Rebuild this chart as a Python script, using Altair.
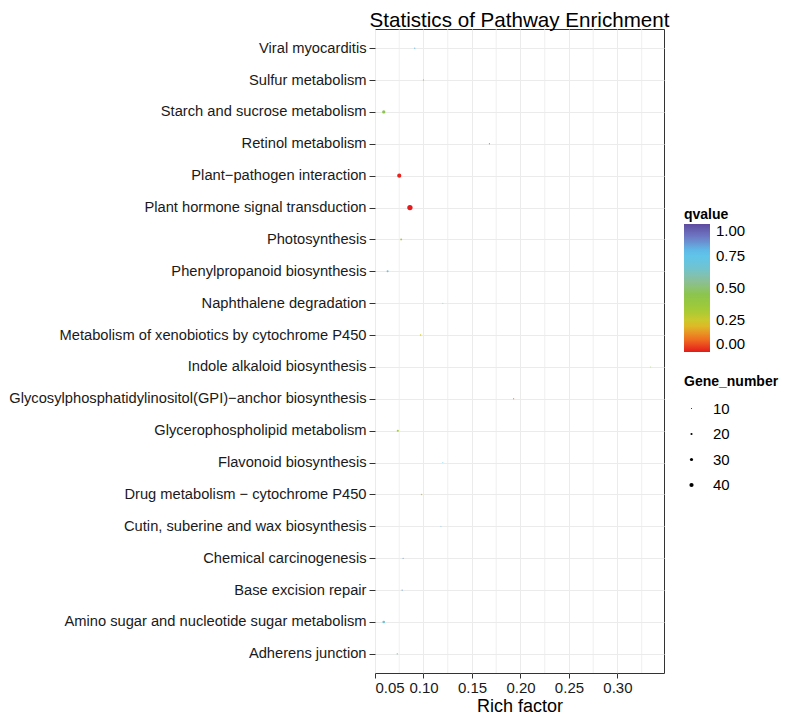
import altair as alt
import pandas as pd

pathways = [
    "Viral myocarditis",
    "Sulfur metabolism",
    "Starch and sucrose metabolism",
    "Retinol metabolism",
    "Plant−pathogen interaction",
    "Plant hormone signal transduction",
    "Photosynthesis",
    "Phenylpropanoid biosynthesis",
    "Naphthalene degradation",
    "Metabolism of xenobiotics by cytochrome P450",
    "Indole alkaloid biosynthesis",
    "Glycosylphosphatidylinositol(GPI)−anchor biosynthesis",
    "Glycerophospholipid metabolism",
    "Flavonoid biosynthesis",
    "Drug metabolism − cytochrome P450",
    "Cutin, suberine and wax biosynthesis",
    "Chemical carcinogenesis",
    "Base excision repair",
    "Amino sugar and nucleotide sugar metabolism",
    "Adherens junction",
]
rich_factor = [0.091, 0.100, 0.059, 0.168, 0.075, 0.086, 0.077, 0.063, 0.120, 0.097,
               0.334, 0.193, 0.0735, 0.120, 0.098, 0.118, 0.079, 0.078, 0.059, 0.073]
qvalue = [0.80, 0.30, 0.45, 0.05, 0.01, 0.0, 0.30, 0.70, 0.75, 0.22,
          0.40, 0.05, 0.32, 0.75, 0.25, 0.72, 0.85, 0.85, 0.68, 0.68]
gene_number = [11, 12, 31, 11, 39, 50, 18, 19, 9, 13,
               8, 10, 20, 9, 13, 9, 11, 11, 25, 14]

x_major = [0.05, 0.10, 0.15, 0.20, 0.25, 0.30]
x_minor = [0.075, 0.125, 0.175, 0.225, 0.275, 0.325]
q_stops = [0.0, 0.111, 0.222, 0.333, 0.444, 0.556, 0.667, 0.778, 0.889, 1.0]
q_colors = ["#e41a1c", "#f07a22", "#d9c828", "#a2cb36", "#8cc54a",
            "#8bbf98", "#6ec4d6", "#5bc5ee", "#6f7ec8", "#5e4ba0"]
size_legend_values = [10, 20, 30, 40]

df = pd.DataFrame({"pathway": pathways, "rich": rich_factor,
                   "qvalue": qvalue, "genes": gene_number})
minor_df = pd.DataFrame({"minor": x_minor})

FONT = "Liberation Sans"
xscale = alt.Scale(domain=[0.05, 0.348], nice=False, zero=False)
xaxis = alt.Axis(values=x_major, format=".2f", title="Rich factor",
                 titleFontSize=18, titleFontWeight="normal", titleColor="#000000",
                 labelFontSize=15, labelColor="#1a1a1a", tickSize=5, tickColor="#333333",
                 gridColor="#ebebeb", domain=False, titlePadding=2, labelPadding=2)

minor_rules = alt.Chart(minor_df).mark_rule(color="#ebebeb", strokeWidth=0.8).encode(
    x=alt.X("minor:Q", scale=xscale, axis=xaxis)
)

points = alt.Chart(df).mark_circle(opacity=1).encode(
    x=alt.X("rich:Q", scale=xscale, axis=xaxis),
    y=alt.Y("pathway:N", sort=pathways,
            scale=alt.Scale(type="point", padding=0.6),
            axis=alt.Axis(title=None, labelFontSize=14.7, labelLimit=600, labelColor="#1a1a1a",
                          tickSize=6, tickColor="#333333", labelPadding=3,
                          grid=True, gridColor="#ebebeb", domain=False)),
    color=alt.Color("qvalue:Q",
                    scale=alt.Scale(domain=q_stops, range=q_colors, interpolate="rgb"),
                    legend=alt.Legend(title="qvalue", orient="none", legendX=309, legendY=179,
                                      direction="vertical", gradientLength=128,
                                      gradientThickness=26, values=[0, 0.25, 0.5, 0.75, 1.0],
                                      format=".2f", labelFontSize=15, labelOffset=6,
                                      titleFontSize=14, titleFontWeight="bold",
                                      titlePadding=2, gradientStrokeWidth=0)),
    size=alt.Size("genes:Q",
                  scale=alt.Scale(type="pow", exponent=2, domain=[0, 50], range=[0, 28]),
                  legend=alt.Legend(title="Gene_number", orient="none", legendX=309, legendY=346,
                                    values=size_legend_values, labelFontSize=15,
                                    titleFontSize=14, titleFontWeight="bold",
                                    symbolFillColor="#000000", symbolStrokeWidth=0,
                                    rowPadding=9.5, labelOffset=14, titlePadding=12)),
    tooltip=["pathway", "rich", "qvalue", "genes"],
)

chart = alt.layer(minor_rules, points).properties(
    width=289, height=644,
    title=alt.TitleParams("Statistics of Pathway Enrichment", fontSize=20.6,
                          fontWeight="normal", font=FONT, color="#000000",
                          anchor="middle", offset=-3),
    padding={"left": 0, "top": 3, "right": 0, "bottom": 0},
).configure(font=FONT).configure_view(stroke="#333333", strokeWidth=1)

chart.save("out.html", embed_options={"renderer": "svg", "actions": False})
